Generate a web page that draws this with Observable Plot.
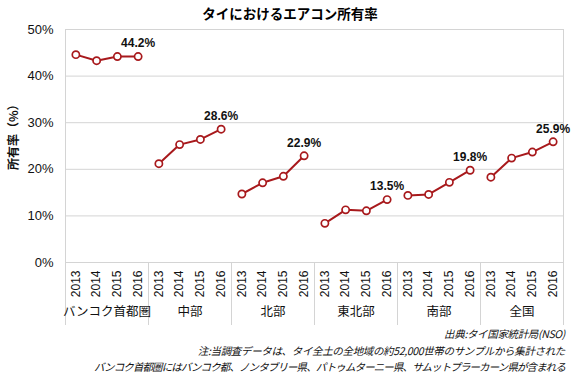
<!DOCTYPE html>
<html><head><meta charset="utf-8">
<script src="https://cdn.jsdelivr.net/npm/d3@7"></script>
<script src="https://cdn.jsdelivr.net/npm/@observablehq/plot@0.6"></script>
<style>
body{margin:0;background:#fff;font-family:Arial,"Liberation Sans","Noto Sans CJK JP",sans-serif;}
#wrap{position:relative;width:580px;height:379px;}
#title{position:absolute;left:0;top:3px;width:580px;text-align:center;font-weight:bold;font-size:13.5px;font-family:"Noto Sans CJK JP",sans-serif;}
#chart{position:absolute;left:0;top:20px;}
#cap{position:absolute;right:15px;top:326px;text-align:right;font-style:italic;font-size:10.5px;line-height:16.5px;font-family:"Noto Sans CJK JP",sans-serif;color:#111;}
#cap .a{letter-spacing:-0.35px;}
#cap .b{letter-spacing:-0.9px;}
</style></head>
<body><div id="wrap">
<div id="title">タイにおけるエアコン所有率</div>
<div id="chart"></div>
<div id="cap"><span class="a">出典:タイ国家統計局(NSO)</span><br><span class="a">注:当調査データは、タイ全土の全地域の約52,000世帯のサンプルから集計された</span><br><span class="b">バンコク首都圏にはバンコク都、ノンタブリー県、パトゥムターニー県、サムットプラーカーン県が含まれる</span></div>
</div>
<script>
const regions = ["バンコク首都圏","中部","北部","東北部","南部","全国"];
const years = ["2013","2014","2015","2016"];
const bangkok   = [44.6, 43.3, 44.2, 44.2];
const central   = [21.2, 25.3, 26.4, 28.6];
const north     = [14.7, 17.1, 18.5, 22.9];
const northeast = [8.4, 11.3, 11.1, 13.5];
const south     = [14.4, 14.6, 17.2, 19.8];
const whole     = [18.3, 22.4, 23.7, 25.9];
const yTicks = [0, 10, 20, 30, 40, 50];

const series = [bangkok, central, north, northeast, south, whole];
const data = [];
series.forEach((vals, g) => vals.forEach((v, i) => data.push({region: regions[g], year: years[i], idx: g*4+i, value: v, last: i === 3})));
const groups = regions.map((r, g) => ({region: r, mid: g*4+1.5}));
const bounds = regions.map((r, g) => g*4-0.5).concat([regions.length*4-0.5]);
const red = "#a8191c";

const plot = Plot.plot({
  width: 580, height: 308,
  marginLeft: 65, marginRight: 17, marginTop: 9, marginBottom: 66,
  style: {fontFamily: "Arial, 'Liberation Sans', sans-serif", fontSize: "12px", color: "#111"},
  x: {domain: [-0.5, regions.length*4-0.5], axis: null},
  y: {domain: [0, 50], axis: null},
  marks: [
    Plot.ruleY(yTicks, {stroke: "#d4d4d4", strokeWidth: 1}),
    Plot.ruleX(bounds.filter((b, i) => i === 0 || i === bounds.length-1), {stroke: "#d4d4d4", insetBottom: -63}),
    Plot.ruleX(bounds.slice(1, -1), {y1: 0, y2: 0, stroke: "#d4d4d4", insetBottom: -63}),
    Plot.axisY({ticks: yTicks, tickSize: 0, tickPadding: 12, tickFormat: d => d + "%", label: null, fontSize: 13}),
    Plot.axisX({ticks: data.map(d => d.idx), tickSize: 0, tickPadding: 8, tickRotate: -90, tickFormat: i => years[i % 4], label: null, fontSize: 12}),
    Plot.text(groups, {x: "mid", text: "region", frameAnchor: "bottom", dy: 53, fontSize: 12.5, fontFamily: "'Noto Sans CJK JP', sans-serif"}),
    Plot.text(["所有率（%）"], {text: d => d, frameAnchor: "left", dx: -51, dy: 24, rotate: -90, fontSize: 12, fontWeight: "bold", fontFamily: "'Noto Sans CJK JP', sans-serif"}),
    Plot.line(data, {x: "idx", y: "value", z: "region", stroke: red, strokeWidth: 2}),
    Plot.dot(data, {x: "idx", y: "value", r: 3.6, fill: "white", stroke: red, strokeWidth: 1.7}),
    Plot.text(data.filter(d => d.last), {x: "idx", y: "value", text: d => d.value.toFixed(1) + "%", dy: -13, fontWeight: "bold", fontSize: 12})
  ]
});
document.getElementById("chart").appendChild(plot);
</script>
</body></html>
